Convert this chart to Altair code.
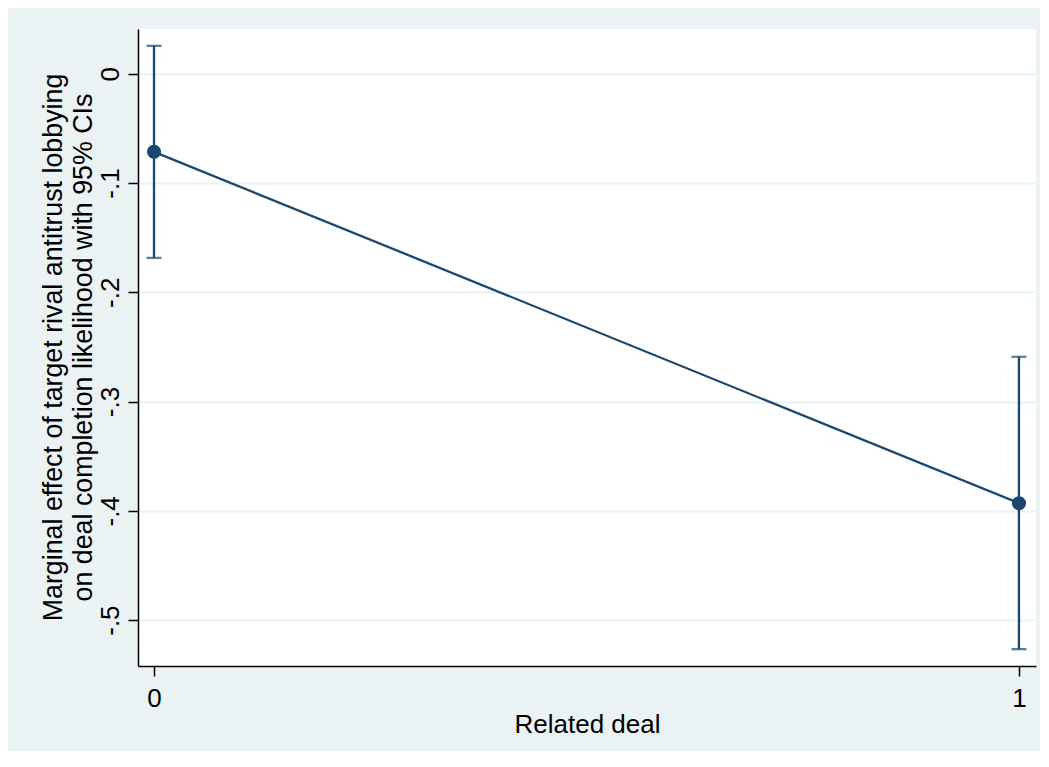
import altair as alt
import pandas as pd

related = [0, 1]
margin = [-0.0714, -0.393]
ci_low = [-0.1685, -0.5266]
ci_high = [0.0256, -0.259]
y_ticks = [0, -0.1, -0.2, -0.3, -0.4, -0.5]
x_ticks = [0, 1]

df = pd.DataFrame({"related": related, "margin": margin, "lo": ci_low, "hi": ci_high})

NAVY = "#1a476f"
BG = "#eaf2f3"
FONT = "Liberation Sans"

xscale = alt.Scale(domain=[-0.0185, 1.0197], nice=False, zero=False)
yscale = alt.Scale(domain=[-0.542, 0.041], nice=False, zero=False)

xaxis = alt.Axis(
    values=x_ticks, format="d", title="Related deal", grid=False,
    labelFontSize=26, labelPadding=9, labelAngle=0,
    titleFontSize=26, titleFontWeight="normal", titleX=449, titleY=66,
    titleBaseline="alphabetic", titleAlign="center",
)
yaxis = alt.Axis(
    values=y_ticks,
    labelExpr="datum.value == 0 ? '0' : '-.' + format(abs(datum.value) * 10, '.0f')",
    labelAngle=270, labelAlign="center", labelBaseline="alphabetic", labelPadding=10,
    labelFontSize=26,
    title=["Marginal effect of target rival antitrust lobbying",
           "on deal completion likelihood with 95% CIs"],
    titleFontSize=26.8, titleFontWeight="normal", titleAngle=270,
    titleX=-77, titleY=318, titleBaseline="alphabetic", titleAlign="center",
    titleLineHeight=30,
    grid=True, gridColor=BG, gridWidth=2,
)

base = alt.Chart(df)

rule = base.mark_rule(color=NAVY, strokeWidth=2.3).encode(
    x=alt.X("related:Q", scale=xscale, axis=xaxis),
    y=alt.Y("lo:Q", scale=yscale, axis=yaxis),
    y2="hi:Q",
)
cap_lo = base.mark_tick(color=NAVY, orient="horizontal", size=15, thickness=2.3).encode(
    x=alt.X("related:Q", scale=xscale), y=alt.Y("lo:Q", scale=yscale)
)
cap_hi = base.mark_tick(color=NAVY, orient="horizontal", size=15, thickness=2.3).encode(
    x=alt.X("related:Q", scale=xscale), y=alt.Y("hi:Q", scale=yscale)
)
line = base.mark_line(color=NAVY, strokeWidth=2.3).encode(
    x=alt.X("related:Q", scale=xscale), y=alt.Y("margin:Q", scale=yscale)
)
pts = base.mark_point(color=NAVY, filled=True, opacity=1, size=200, strokeWidth=0).encode(
    x=alt.X("related:Q", scale=xscale), y=alt.Y("margin:Q", scale=yscale)
)

chart = (
    alt.layer(rule, cap_lo, cap_hi, line, pts)
    .properties(
        width=898, height=637,
        autosize=alt.AutoSizeParams(type="none"),
        padding={"left": 130, "top": 21, "right": 4, "bottom": 85},
        background=BG,
    )
    .configure_view(fill="white", stroke=None)
    .configure_axis(
        labelFont=FONT, titleFont=FONT, labelColor="black", titleColor="black",
        domainColor="black", domainWidth=1.5, tickColor="black", tickWidth=1.5,
        tickSize=10,
    )
)

chart.save("out.html", embed_options={"renderer": "svg", "actions": False})
